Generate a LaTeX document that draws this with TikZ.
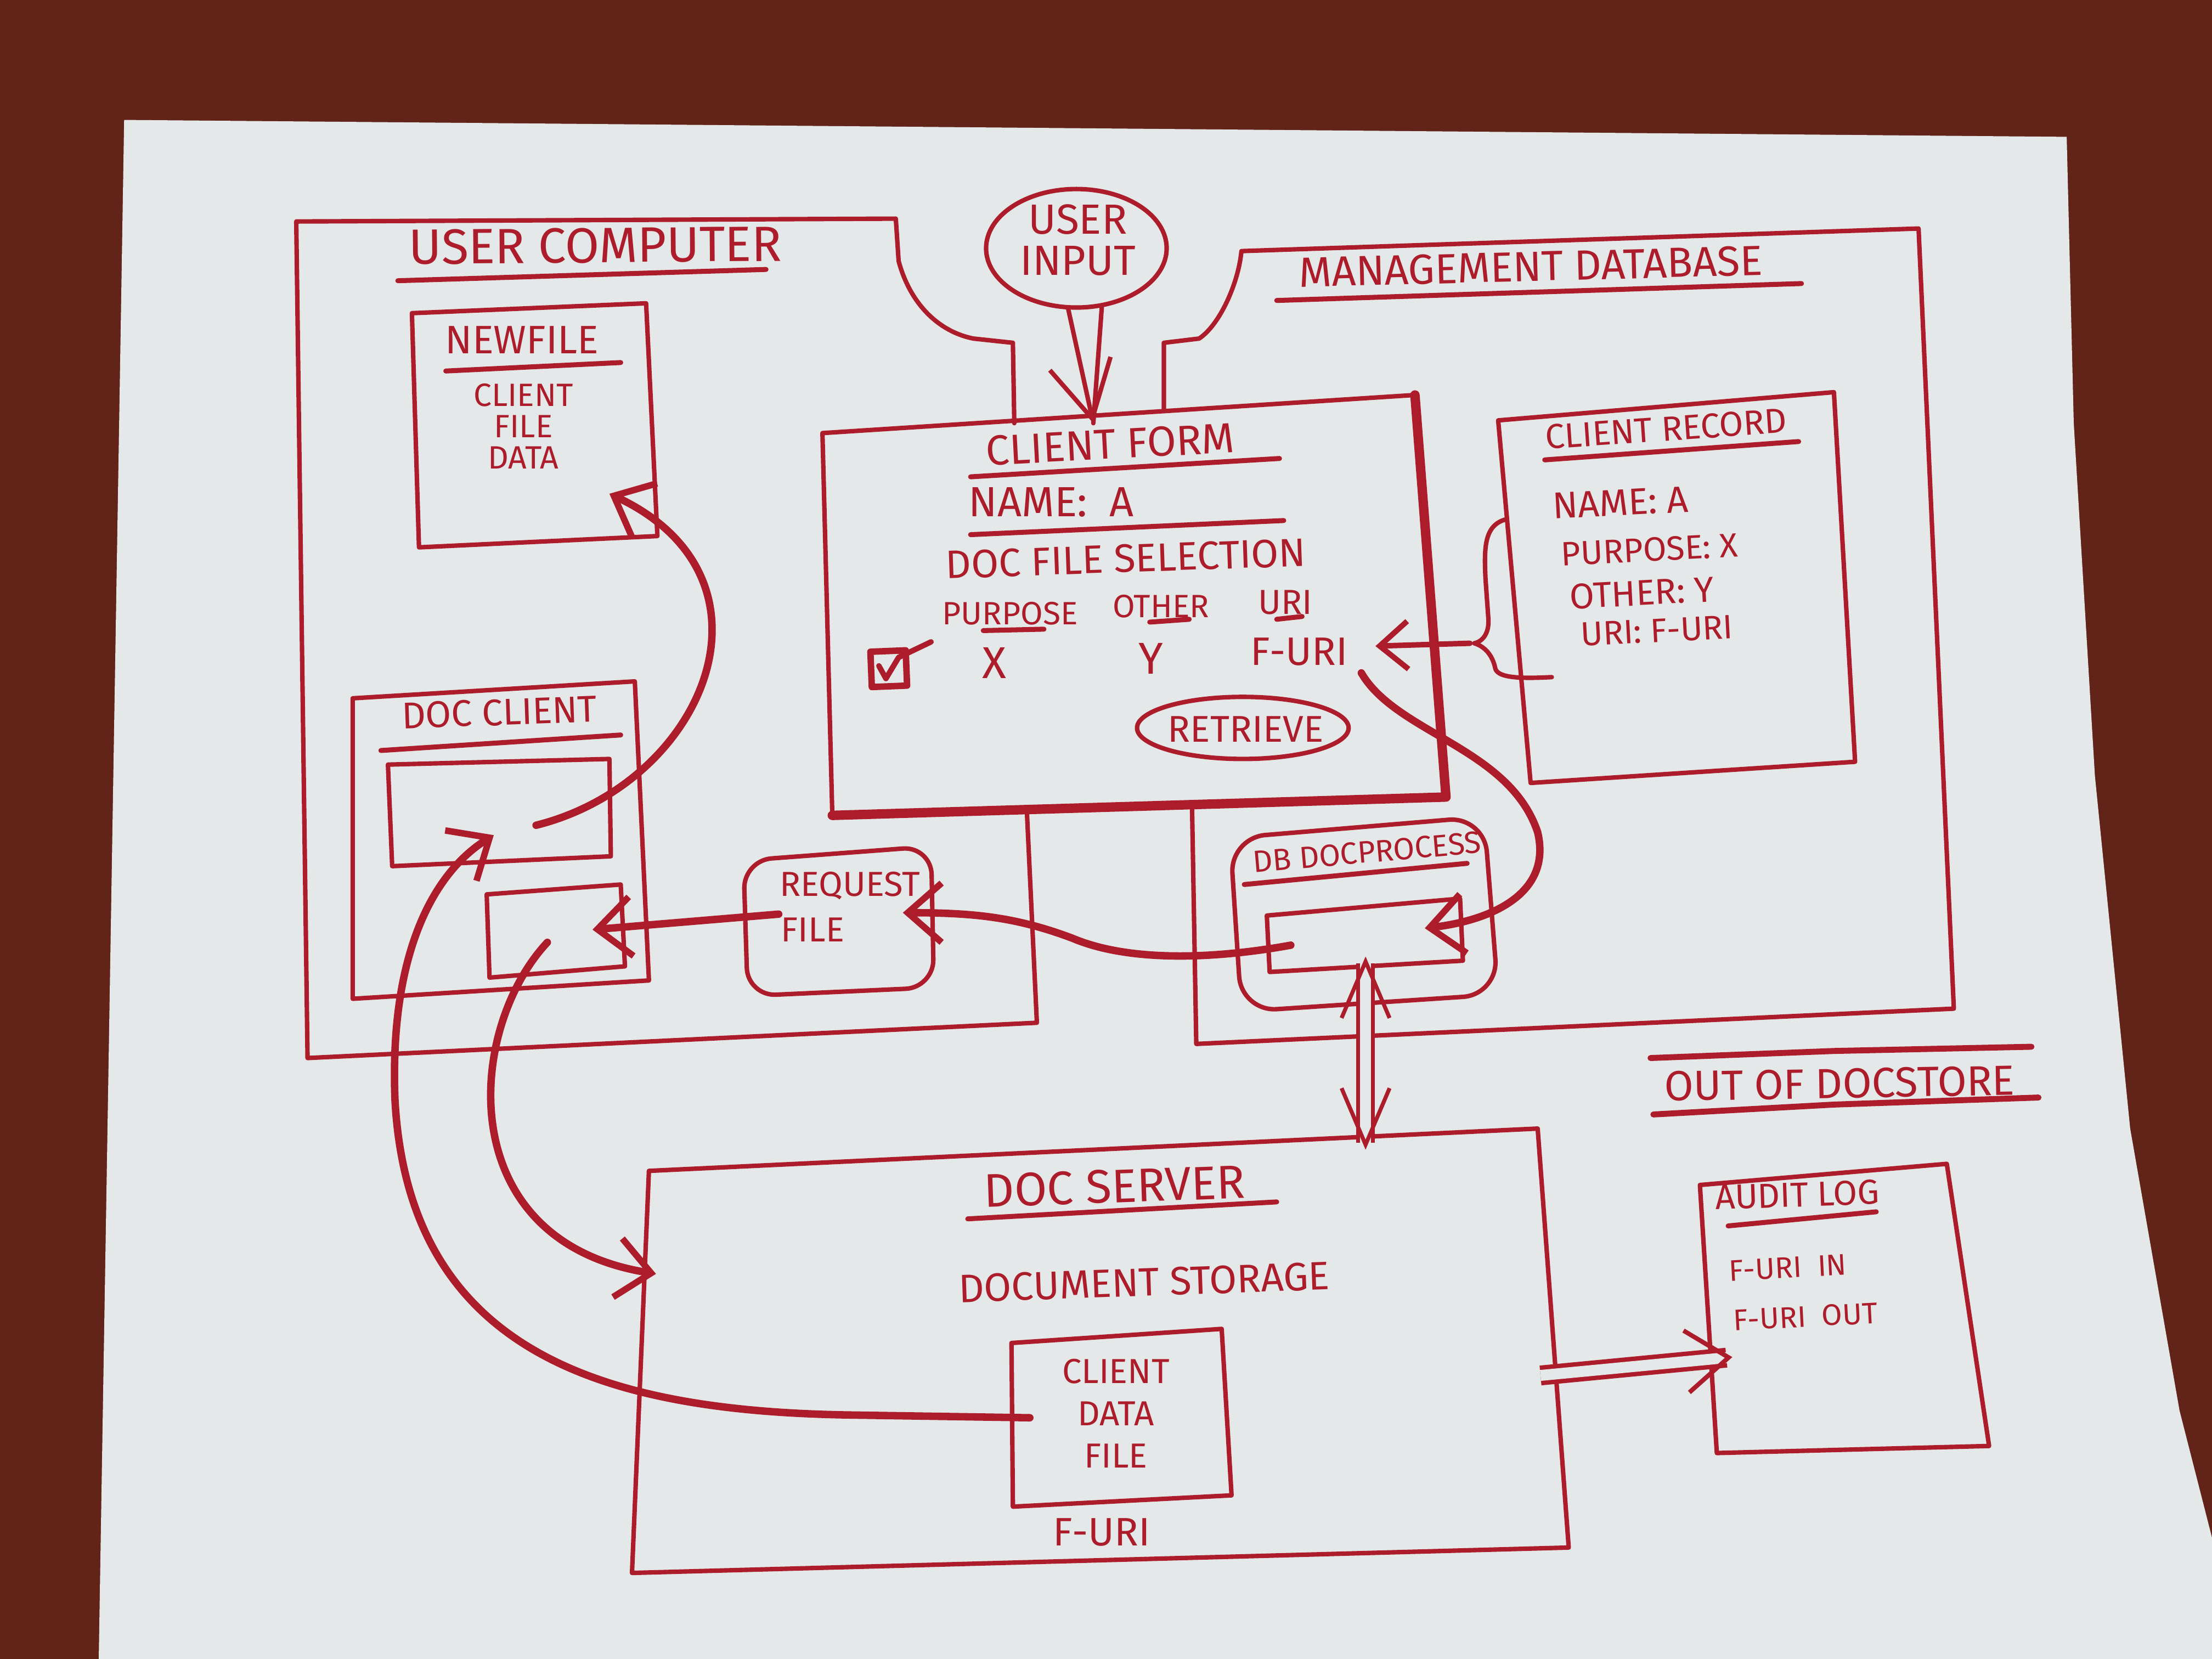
\documentclass[tikz,border=0pt]{standalone}
\usepackage{fontspec}
\setmainfont{Fira Sans}
\usetikzlibrary{arrows.meta,shapes.geometric}
\definecolor{ink}{RGB}{172,28,42}
\definecolor{paper}{RGB}{228,232,232}
\definecolor{desk}{RGB}{98,36,24}
\begin{document}
\begin{tikzpicture}[x=0.01cm,y=-0.01cm,
  box/.style={draw=ink, line width=0.9pt, line join=round, line cap=round},
  thickbox/.style={draw=ink, line width=1.9pt, line cap=round, line join=round},
  conn/.style={draw=ink, line width=1.5pt, line cap=round},
  barb/.style={-{Straight Barb[length=2.4mm,width=4.2mm,line width=1.3pt]}},
  uline/.style={draw=ink, line width=1pt, line cap=round},
  txt/.style={text=ink, inner sep=0pt, font=\fontsize{#1}{#1}\selectfont},
  txt/.default=7,
]
\useasboundingbox (0,0) rectangle (1568,1176);
% background
\fill[desk] (0,0) rectangle (1568,1176);
\fill[paper] (88,85) -- (1465,97) -- (1470,300) -- (1485,550) -- (1510,800) -- (1545,1000) -- (1568,1090) -- (1568,1176) -- (70,1176) -- cycle;

% ---------------- USER COMPUTER
\draw[box] (719,300) -- (718,243) -- (690,240) .. controls (665,235) and (645,215) .. (637,185) -- (635,155) -- (210,157) -- (218,750) -- (735,725) -- (728,577);
\node[txt=10, rotate=0.5] (ucT) at (422,174) {USER COMPUTER};
\draw[uline] (282,199) -- (543,191);

% ---------------- MANAGEMENT DATABASE
\draw[box] (825,290) -- (825,243) -- (850,240) .. controls (865,230) and (878,200) .. (880,178) -- (1360,162) -- (1385,715) -- (848,740) -- (845,572);
\node[txt=8.5, rotate=1.5] (mdT) at (1085,189) {MANAGEMENT DATABASE};
\draw[uline] (905,213) -- (1277,201);

% ---------------- USER INPUT
\draw[box] (763,176) ellipse [x radius=64, y radius=42];
\node[txt=8.5, align=center, font=\fontsize{8.5}{8.3}\selectfont] (ui) at (764,170) {USER\\INPUT};
\coordinate (uiL) at (757,218);
\coordinate (uiR) at (781,218);
\coordinate (cfIn) at (775,300);
\draw[box, -{Straight Barb[length=4mm,width=4.4mm,line width=0.9pt]}] (uiL) -- (cfIn);
\draw[box] (uiR) -- (cfIn);

% ---------------- CLIENT FORM
\draw[box] (583,307) -- (1003,280) -- (1025,565) -- (590,578) -- cycle;
\draw[thickbox] (1003,280) -- (1025,565) -- (590,578);
\node[txt=8.5, rotate=3] (cfT) at (787,315) {CLIENT FORM};
\draw[uline] (688,338) -- (907,325);
\node[txt=8.5, anchor=west] (cfName) at (686,356) {NAME:\ \ A};
\draw[uline] (688,379) -- (910,369);
\node[txt=8, rotate=2] (cfSel) at (798,396) {DOC FILE SELECTION};
\node[txt=6.5] (cfPur) at (716,435) {PURPOSE};
\draw[uline] (697,447) -- (740,446);
\node[txt=6.5] (cfOth) at (823,430) {OTHER};
\draw[uline] (815,441) -- (843,439);
\node[txt=7] (cfUri) at (911,427) {URI};
\draw[uline] (905,439) -- (923,437);
\draw[box, line width=1.3pt] (617,462) -- (642,461) -- (643,486) -- (618,487) -- cycle;
\draw[box, line width=1.1pt] (623,472) -- (628,481) -- (637,466) -- (660,455);
\node[txt=9] (cfX) at (705,470) {X};
\node[txt=9] (cfY) at (816,467) {Y};
\node[txt=8] (cfF) at (921,462) {F-URI};
\draw[box] (881,516) ellipse [x radius=75, y radius=22];
\node[txt=7.5] (ret) at (883,517) {RETRIEVE};

% ---------------- NEWFILE
\draw[box] (292,222) -- (458,215) -- (466,380) -- (297,388) -- cycle;
\node[txt=8] (nfT) at (370,241) {NEWFILE};
\draw[uline] (316,263) -- (440,257);
\node[txt=6.5, align=center, font=\fontsize{6.5}{6.3}\selectfont] (nfB) at (371,302) {CLIENT\\FILE\\DATA};

% ---------------- DOC CLIENT
\draw[box] (250,495) -- (450,483) -- (460,695) -- (250,708) -- cycle;
\node[txt=7.5, rotate=2] (dcT) at (354,505) {DOC CLIENT};
\draw[uline] (270,532) -- (440,521);
\draw[box] (275,542) -- (432,538) -- (433,607) -- (278,614) -- cycle;
\draw[box] (345,634) -- (440,627) -- (443,685) -- (347,693) -- cycle;

% ---------------- REQUEST FILE
\draw[box, rounded corners=2mm] (527,610) -- (660,600) -- (662,700) -- (530,706) -- cycle;
\node[txt=7, anchor=west] (rfA) at (552,628) {REQUEST};
\node[txt=7, anchor=west] (rfB) at (553,659) {FILE};

% ---------------- DB DOCPROCESS
\draw[box, rounded corners=2.5mm] (872,594) -- (1052,579) -- (1062,705) -- (880,717) -- cycle;
\node[txt=6.2, rotate=5] (dbT) at (969,604) {DB DOCPROCESS};
\draw[uline] (882,627) -- (1040,612);
\draw[box] (898,649) -- (1035,637) -- (1037,681) -- (900,689) -- cycle;

% ---------------- CLIENT RECORD
\draw[box] (1062,298) -- (1300,278) -- (1315,540) -- (1085,555) -- cycle;
\node[txt=7, rotate=4] (crT) at (1181,304) {CLIENT RECORD};
\draw[uline] (1095,326) -- (1275,313);
\node[txt=7.5, rotate=3, anchor=west] (cr1) at (1100,359) {NAME: A};
\node[txt=6.8, rotate=3, anchor=west] (cr2) at (1106,393) {PURPOSE: X};
\node[txt=7.2, rotate=3, anchor=west] (cr3) at (1112,423) {OTHER: Y};
\node[txt=6.8, rotate=3, anchor=west] (cr4) at (1120,450) {URI: F-URI};
% brace
\draw[box] (1068,368) .. controls (1052,372) and (1052,388) .. (1053,410) -- (1055,438) .. controls (1056,450) and (1050,455) .. (1045,456) .. controls (1052,458) and (1058,464) .. (1060,474) .. controls (1062,481) and (1080,481) .. (1100,480);

% ---------------- DOC SERVER
\draw[box] (460,830) -- (1090,800) -- (1112,1097) -- (448,1115) -- cycle;
\node[txt=9.5, rotate=2] (dsT) at (790,841) {DOC SERVER};
\draw[uline] (686,864) -- (905,852);
\node[txt=8, rotate=2] (dsS) at (811,909) {DOCUMENT STORAGE};
\draw[box] (717,952) -- (866,942) -- (873,1060) -- (718,1068) -- cycle;
\node[txt=7, align=center, font=\fontsize{7}{8.5}\selectfont] (cdf) at (791,1002) {CLIENT\\DATA\\FILE};
\node[txt=8] (dsF) at (781,1086) {F-URI};

% ---------------- OUT OF DOCSTORE
\node[txt=8.5, rotate=1] (oods) at (1304,768) {OUT OF DOCSTORE};
\draw[uline, line width=1.2pt] (1170,750) -- (1300,745) -- (1440,742);
\draw[uline, line width=1.2pt] (1172,790) -- (1300,783) -- (1445,778);

% ---------------- AUDIT LOG
\draw[box] (1205,840) -- (1380,825) -- (1410,1025) -- (1217,1030) -- cycle;
\node[txt=7, rotate=2] (alT) at (1274,847) {AUDIT LOG};
\draw[uline] (1225,869) -- (1330,859);
\node[txt=6, rotate=3, anchor=west] (al1) at (1225,901) {F-URI\ \ IN};
\node[txt=6, rotate=3, anchor=west] (al2) at (1228,936) {F-URI\ \ OUT};

% ---------------- connectors
\coordinate (nfIn) at (432,350);
\coordinate (dcAOut) at (380,585);
\coordinate (dcAIn) at (350,592);
\coordinate (cdfOut) at (730,1005);
\coordinate (dcBOut) at (388,668);
\coordinate (dsIn) at (465,903);
\coordinate (rfOut) at (552,648);
\coordinate (dcBIn) at (420,659);
\coordinate (dbOut) at (915,670);
\coordinate (rfIn) at (640,647);
\coordinate (furiOut) at (965,477);
\coordinate (dbIn) at (1010,658);
\coordinate (dbBot) at (968,678);
\coordinate (dsTop) at (968,815);
\coordinate (braceTip) at (1042,456);
\coordinate (furiIn) at (975,458);
\coordinate (dsOut) at (1092,975);
\coordinate (alIn) at (1228,962);

\draw[conn, barb] (dcAOut) .. controls (500,555) and (560,410) .. (nfIn);
\draw[conn, barb] (cdfOut) -- (600,1003) .. controls (430,1000) and (290,960) .. (280,780) .. controls (276,680) and (305,620) .. (dcAIn);
\draw[conn, barb] (dcBOut) .. controls (330,730) and (320,880) .. (dsIn);
\draw[conn, barb] (rfOut) -- (dcBIn);
\draw[conn, barb] (dbOut) .. controls (860,680) and (800,682) .. (760,665) .. controls (720,650) and (690,647) .. (rfIn);
\draw[conn, barb] (furiOut) .. controls (990,520) and (1070,530) .. (1090,590) .. controls (1100,632) and (1060,652) .. (dbIn);
\draw[draw=ink, line width=0.8pt, double=paper, double distance=2.2pt, {Straight Barb[length=4mm,width=3.4mm]}-{Straight Barb[length=4mm,width=3.4mm]}] (dbBot) -- (dsTop);
\draw[box, line width=1.1pt, -{Straight Barb[length=2mm,width=3.4mm,line width=1.1pt]}] (braceTip) -- (furiIn);
\draw[draw=ink, line width=0.9pt, double=paper, double distance=2.2pt, -{Straight Barb[length=3mm,width=4.4mm]}] (dsOut) -- (alIn);
\end{tikzpicture}
\end{document}
